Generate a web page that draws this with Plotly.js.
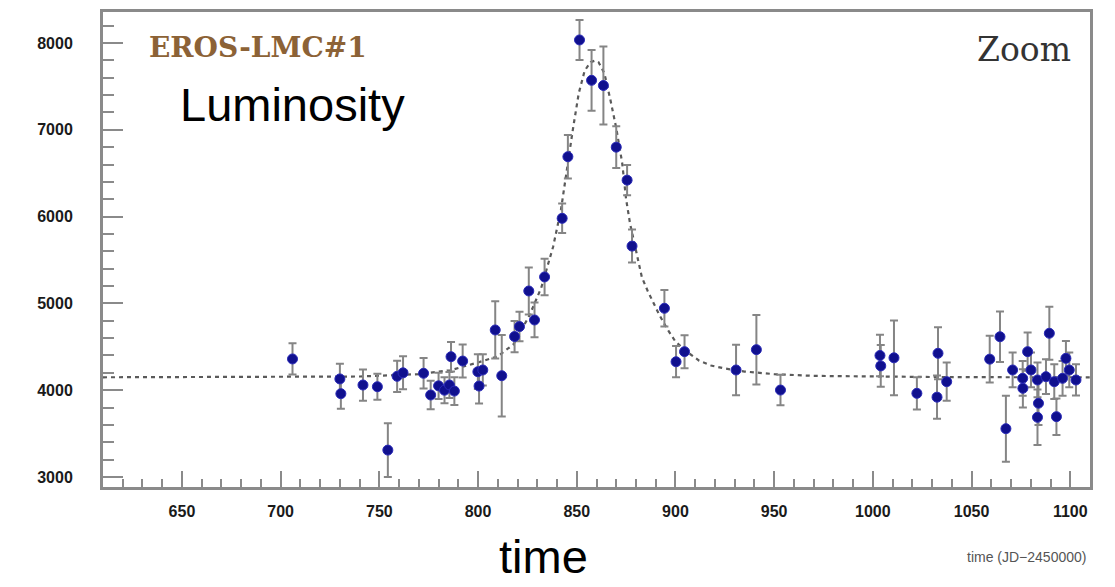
<!DOCTYPE html>
<html>
<head>
<meta charset="utf-8">
<script src="https://cdn.plot.ly/plotly-3.0.1.min.js"></script>
<style>html,body{margin:0;padding:0;background:#fff;}</style>
</head>
<body>
<div id="chart" style="width:1115px;height:587px;"></div>
<script>
// Observed data points: time (JD-2450000), luminosity, error
const obsTime = [706, 730, 730.5, 741.7, 749, 754.3, 759, 762, 772.4, 776, 780, 783, 785.5, 788, 786.3, 792.2, 799.9, 800.5, 802.4, 808.7, 812, 818.5, 821, 825.7, 828.6, 833.7, 842.6, 845.5, 851.4, 857.5, 863.5, 870, 875.5, 878, 894.4, 900.3, 904.6, 930.7, 941, 953.2, 1003.6, 1004, 1010.7, 1022.3, 1033, 1032.5, 1037.4, 1059.2, 1064.4, 1067.4, 1070.8, 1075.9, 1076, 1078.4, 1080.1, 1083.4, 1083.9, 1083.4, 1087.7, 1089.4, 1091.9, 1093, 1096.1, 1097.8, 1099.5, 1102.9];
const obsLum = [4360, 4130, 3960, 4060, 4040, 3310, 4160, 4200, 4195, 3945, 4050, 4000, 4060, 3990, 4386, 4336, 4213, 4048, 4233, 4694, 4167, 4618, 4733, 5143, 4809, 5305, 5980, 6690, 8035, 7570, 7510, 6800, 6420, 5660, 4944, 4328, 4444, 4233, 4467, 4002, 4400, 4280, 4373, 3964, 4425, 3920, 4098, 4358, 4616, 3557, 4233, 4137, 4022, 4444, 4233, 4118, 3850, 3688, 4156, 4656, 4098, 3695, 4137, 4367, 4233, 4118];
const obsErr = [180, 175, 175, 180, 150, 310, 180, 190, 175, 165, 150, 150, 150, 160, 170, 190, 200, 200, 180, 330, 470, 180, 170, 270, 200, 210, 170, 250, 230, 350, 450, 240, 175, 190, 210, 180, 190, 290, 400, 175, 240, 240, 430, 185, 300, 250, 220, 270, 290, 380, 200, 200, 220, 220, 200, 200, 250, 320, 200, 305, 200, 210, 200, 200, 200, 180];

// Fitted light curve (dashed)
const fitTime = [610, 700, 740, 770, 786, 800, 810, 818, 826, 832, 838, 842, 845, 848, 851, 854, 857, 859, 861, 864, 867, 870, 873, 875, 877, 880, 883, 886, 889, 892, 896, 900, 906, 912, 918, 925, 935, 950, 970, 1000, 1040, 1110];
const fitLum = [4149, 4150, 4158, 4185, 4230, 4320, 4390, 4530, 4860, 5180, 5650, 6080, 6550, 7000, 7420, 7680, 7780, 7795, 7780, 7650, 7350, 7020, 6620, 6200, 5920, 5600, 5300, 5140, 5000, 4860, 4700, 4560, 4440, 4340, 4285, 4250, 4215, 4185, 4165, 4155, 4150, 4149];

const xTicks = [650, 700, 750, 800, 850, 900, 950, 1000, 1050, 1100];
const yTicks = [3000, 4000, 5000, 6000, 7000, 8000];

const traces = [
  {
    x: fitTime, y: fitLum, type: 'scatter', mode: 'lines',
    line: {color: '#5a5a5a', width: 2.2, dash: '4px,4px'},
    hoverinfo: 'skip'
  },
  {
    x: obsTime, y: obsLum, type: 'scatter', mode: 'markers',
    marker: {color: '#10108e', size: 10, line: {color: '#2a2ab8', width: 1}},
    error_y: {type: 'data', array: obsErr, visible: true, color: '#858585', thickness: 2, width: 4}
  }
];

const axisFont = {family: 'Liberation Sans, Arial, sans-serif', size: 16, color: '#1a1a1a', weight: 'bold'};

const layout = {
  width: 1115, height: 587,
  margin: {l: 103, r: 25, t: 12, b: 100},
  paper_bgcolor: '#ffffff', plot_bgcolor: '#ffffff',
  showlegend: false,
  xaxis: {
    range: [610, 1110], tickvals: xTicks, ticktext: xTicks.map(String),
    ticks: 'inside', ticklen: 16, tickwidth: 2, tickcolor: '#8a8a8a',
    showline: true, linecolor: '#8a8a8a', linewidth: 3, mirror: true,
    showgrid: false, zeroline: false, tickfont: axisFont, ticklabelstandoff: 8,
    minor: {dtick: 10, tick0: 600, ticks: 'inside', ticklen: 8, tickwidth: 2, tickcolor: '#8a8a8a', showgrid: false}
  },
  yaxis: {
    range: [2885, 8357], tickvals: yTicks, ticktext: yTicks.map(String),
    ticks: 'inside', ticklen: 20, tickwidth: 2, tickcolor: '#8a8a8a',
    showline: true, linecolor: '#8a8a8a', linewidth: 3, mirror: true,
    showgrid: false, zeroline: false, tickfont: axisFont, ticklabelstandoff: 24,
    minor: {dtick: 200, tick0: 3000, ticks: 'inside', ticklen: 11, tickwidth: 2, tickcolor: '#8a8a8a', showgrid: false}
  },
  annotations: [
    {text: 'EROS-LMC#1', xref: 'paper', yref: 'paper', x: 0.0446, y: 0.926, xanchor: 'left', yanchor: 'middle', showarrow: false,
     font: {family: 'DejaVu Serif, serif', size: 28, color: '#8c6236', weight: 'bold'}},
    {text: 'Luminosity', xref: 'paper', yref: 'paper', x: 0.1925, y: 0.805, xanchor: 'center', yanchor: 'middle', showarrow: false,
     font: {family: 'Liberation Sans, Arial, sans-serif', size: 47, color: '#000'}},
    {text: 'Zoom', xref: 'paper', yref: 'paper', x: 0.9828, y: 0.92, xanchor: 'right', yanchor: 'middle', showarrow: false,
     font: {family: 'DejaVu Serif, serif', size: 33, color: '#333'}},
    {text: 'time', xref: 'paper', yref: 'paper', x: 0.4458, y: -0.147, xanchor: 'center', yanchor: 'middle', showarrow: false,
     font: {family: 'Liberation Sans, Arial, sans-serif', size: 47, color: '#000'}},
    {text: 'time (JD\u22122450000)', xref: 'paper', yref: 'paper', x: 0.998, y: -0.147, xanchor: 'right', yanchor: 'middle', showarrow: false,
     font: {family: 'Liberation Sans, Arial, sans-serif', size: 14, color: '#555'}}
  ]
};

Plotly.newPlot('chart', traces, layout, {displayModeBar: false, staticPlot: true});
</script>
</body>
</html>
